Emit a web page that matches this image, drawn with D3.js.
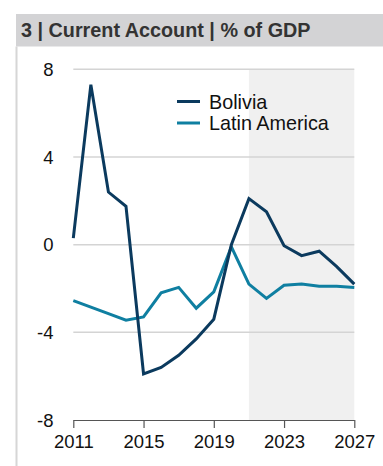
<!DOCTYPE html>
<html><head><meta charset="utf-8">
<script src="https://cdn.jsdelivr.net/npm/d3@7"></script>
<style>
html,body{margin:0;padding:0;background:#fff;}
svg{display:block;font-family:"Liberation Sans",Arial,sans-serif;}
</style></head>
<body><svg id="c" width="383" height="466"></svg>
<script>
const years = [2011,2012,2013,2014,2015,2016,2017,2018,2019,2020,2021,2022,2023,2024,2025,2026,2027];
const bolivia = [0.3,7.3,2.4,1.75,-5.9,-5.6,-5.05,-4.3,-3.4,0.0,2.1,1.5,-0.05,-0.5,-0.3,-1.0,-1.8];
const latam = [-2.55,-2.85,-3.15,-3.45,-3.3,-2.2,-1.95,-2.9,-2.15,-0.1,-1.8,-2.45,-1.85,-1.8,-1.9,-1.9,-1.95];
const yTicks = [-8,-4,0,4,8];
const xTicks = [2011,2015,2019,2023,2027];
const forecastStart = 2021;
const title = "3 | Current Account | % of GDP";
const seriesNames = ["Bolivia","Latin America"];
const colors = ["#0b3a5e","#0f7fa1"];

const svg = d3.select("#c");
const x = d3.scaleLinear().domain([2011,2027]).range([73.3,354.3]);
const y = d3.scaleLinear().domain([-8,8]).range([420,69.3]);

// title band
svg.append("rect").attr("x",16).attr("y",14).attr("width",367).attr("height",32.5).attr("fill","#d3d3d5");
svg.append("text").attr("x",21).attr("y",37).attr("font-size",19.8).attr("font-weight","bold").attr("fill","#333")
  .text(title);
// left border
svg.append("rect").attr("x",15.5).attr("y",46.5).attr("width",2).attr("height",420).attr("fill","#d6d6d6");

// forecast shading
svg.append("rect").attr("x",x(forecastStart)).attr("y",y(8)).attr("width",x(2027)-x(forecastStart)).attr("height",y(-8)-y(8)).attr("fill","#f0f0f0");

// gridlines
svg.append("g").selectAll("line").data(yTicks.filter(d=>d>-8)).join("line")
  .attr("x1",x(2011)).attr("x2",x(2027)).attr("y1",d=>y(d)).attr("y2",d=>y(d))
  .attr("stroke","#d4d4d4").attr("stroke-width",1.5);

// y labels
svg.append("g").selectAll("text").data(yTicks).join("text")
  .attr("x",53.5).attr("y",d=>y(d)).attr("dy","0.36em").attr("text-anchor","end")
  .attr("font-size",18.5).attr("fill","#111").text(d=>d);

// x axis
const xAxis = d3.axisBottom(x).tickValues(xTicks).tickFormat(d3.format("d")).tickSize(8).tickSizeOuter(0).tickPadding(7);
const gx = svg.append("g").attr("transform",`translate(0,${y(-8)})`).call(xAxis);
gx.select(".domain").attr("stroke","#555").attr("stroke-width",1.2);
gx.selectAll(".tick line").attr("stroke","#555").attr("stroke-width",1.2);
gx.selectAll(".tick text").attr("font-size",18.5).attr("fill","#111").attr("font-family","Liberation Sans, Arial, sans-serif");

// lines
const line = d3.line().x((d,i)=>x(years[i])).y(d=>y(d));
[latam,bolivia].forEach((s,k)=>{
  svg.append("path").attr("d",line(s)).attr("fill","none")
    .attr("stroke", k===0?colors[1]:colors[0]).attr("stroke-width",3).attr("stroke-linejoin","miter");
});

// legend
const lg = svg.append("g");
seriesNames.forEach((n,i)=>{
  const yy = 101.5 + i*21.5;
  lg.append("line").attr("x1",177).attr("x2",200).attr("y1",yy).attr("y2",yy).attr("stroke",colors[i]).attr("stroke-width",3);
  lg.append("text").attr("x",209).attr("y",yy).attr("dy","0.36em").attr("font-size",19.8).attr("fill","#111").text(n);
});
</script></body></html>
